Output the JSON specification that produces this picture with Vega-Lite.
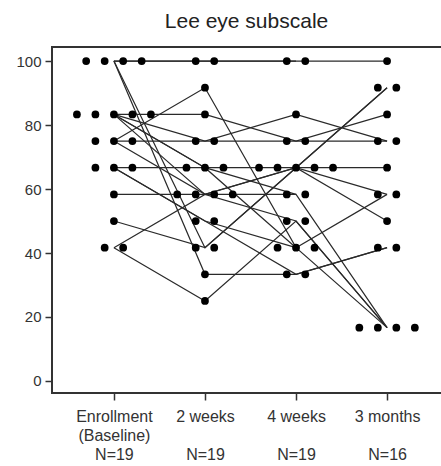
{
  "$schema": "https://vega.github.io/schema/vega-lite/v6.json",
  "autosize": "none",
  "padding": {"left": 52, "top": 47, "right": 0, "bottom": 73},
  "width": 397,
  "height": 346,
  "background": "white",
  "title": {"text": "Lee eye subscale", "fontSize": 21, "fontWeight": "normal", "font": "Liberation Sans", "color": "#222", "anchor": "middle", "baseline": "alphabetic", "offset": 20, "dy": 22, "dx": -4, "frame": "group"},
  "config": {
    "view": {"stroke": "#333", "strokeWidth": 2},
    "axis": {"grid": false, "domain": false, "labelFont": "Liberation Sans", "labelColor": "#333", "tickColor": "#333", "tickWidth": 1.5, "tickSize": 7, "title": null}
  },
  "data": {"values": [
    {"patient": 1, "visit": "Enrollment", "score": 100}, {"patient": 1, "visit": "2 weeks", "score": 100}, {"patient": 1, "visit": "4 weeks", "score": 100}, {"patient": 1, "visit": "3 months", "score": 100},
    {"patient": 2, "visit": "Enrollment", "score": 100}, {"patient": 2, "visit": "2 weeks", "score": 100}, {"patient": 2, "visit": "4 weeks", "score": 100},
    {"patient": 3, "visit": "Enrollment", "score": 100}, {"patient": 3, "visit": "2 weeks", "score": 33.33}, {"patient": 3, "visit": "4 weeks", "score": 33.33}, {"patient": 3, "visit": "3 months", "score": 41.67},
    {"patient": 4, "visit": "Enrollment", "score": 100}, {"patient": 4, "visit": "2 weeks", "score": 41.67}, {"patient": 4, "visit": "4 weeks", "score": 66.67}, {"patient": 4, "visit": "3 months", "score": 91.67},
    {"patient": 5, "visit": "Enrollment", "score": 75}, {"patient": 5, "visit": "2 weeks", "score": 91.67}, {"patient": 5, "visit": "4 weeks", "score": 41.67}, {"patient": 5, "visit": "3 months", "score": 16.67},
    {"patient": 6, "visit": "Enrollment", "score": 41.67}, {"patient": 6, "visit": "2 weeks", "score": 25}, {"patient": 6, "visit": "4 weeks", "score": 50}, {"patient": 6, "visit": "3 months", "score": 16.67},
    {"patient": 7, "visit": "Enrollment", "score": 83.33}, {"patient": 7, "visit": "2 weeks", "score": 83.33}, {"patient": 7, "visit": "4 weeks", "score": 75}, {"patient": 7, "visit": "3 months", "score": 83.33},
    {"patient": 8, "visit": "Enrollment", "score": 83.33}, {"patient": 8, "visit": "2 weeks", "score": 75}, {"patient": 8, "visit": "4 weeks", "score": 83.33}, {"patient": 8, "visit": "3 months", "score": 75},
    {"patient": 9, "visit": "Enrollment", "score": 75}, {"patient": 9, "visit": "2 weeks", "score": 75}, {"patient": 9, "visit": "4 weeks", "score": 75}, {"patient": 9, "visit": "3 months", "score": 75},
    {"patient": 10, "visit": "Enrollment", "score": 50}, {"patient": 10, "visit": "2 weeks", "score": 41.67}, {"patient": 10, "visit": "4 weeks", "score": 66.67}, {"patient": 10, "visit": "3 months", "score": 91.67},
    {"patient": 11, "visit": "Enrollment", "score": 83.33}, {"patient": 11, "visit": "2 weeks", "score": 66.67}, {"patient": 11, "visit": "4 weeks", "score": 66.67}, {"patient": 11, "visit": "3 months", "score": 66.67},
    {"patient": 12, "visit": "Enrollment", "score": 83.33}, {"patient": 12, "visit": "2 weeks", "score": 66.67}, {"patient": 12, "visit": "4 weeks", "score": 58.33},
    {"patient": 13, "visit": "Enrollment", "score": 66.67}, {"patient": 13, "visit": "2 weeks", "score": 66.67}, {"patient": 13, "visit": "4 weeks", "score": 41.67}, {"patient": 13, "visit": "3 months", "score": 58.33},
    {"patient": 14, "visit": "Enrollment", "score": 83.33}, {"patient": 14, "visit": "2 weeks", "score": 58.33}, {"patient": 14, "visit": "4 weeks", "score": 66.67}, {"patient": 14, "visit": "3 months", "score": 58.33},
    {"patient": 15, "visit": "Enrollment", "score": 75}, {"patient": 15, "visit": "2 weeks", "score": 58.33}, {"patient": 15, "visit": "4 weeks", "score": 66.67}, {"patient": 15, "visit": "3 months", "score": 50},
    {"patient": 16, "visit": "Enrollment", "score": 58.33}, {"patient": 16, "visit": "2 weeks", "score": 58.33}, {"patient": 16, "visit": "4 weeks", "score": 58.33}, {"patient": 16, "visit": "3 months", "score": 16.67},
    {"patient": 17, "visit": "Enrollment", "score": 41.67}, {"patient": 17, "visit": "2 weeks", "score": 58.33}, {"patient": 17, "visit": "4 weeks", "score": 50}, {"patient": 17, "visit": "3 months", "score": 16.67},
    {"patient": 18, "visit": "Enrollment", "score": 66.67}, {"patient": 18, "visit": "2 weeks", "score": 50}, {"patient": 18, "visit": "4 weeks", "score": 33.33}, {"patient": 18, "visit": "3 months", "score": 41.67},
    {"patient": 19, "visit": "Enrollment", "score": 66.67}, {"patient": 19, "visit": "2 weeks", "score": 50}, {"patient": 19, "visit": "4 weeks", "score": 41.67}
  ]},
  "encoding": {
    "x": {"field": "visit", "type": "nominal", "sort": ["Enrollment", "2 weeks", "4 weeks", "3 months"],
          "scale": {"type": "point", "padding": 0.68},
          "axis": {"labelAngle": 0, "labelFontSize": 16, "labelPadding": 8, "labelLineHeight": 19, "labelOverlap": false, "labelLimit": 200, "labelBaseline": "top",
                   "labelExpr": "datum.value == 'Enrollment' ? ['Enrollment', '(Baseline)', 'N=19'] : datum.value == '3 months' ? ['3 months', '\u200b', 'N=16'] : [datum.value, '\u200b', 'N=19']"}},
    "y": {"field": "score", "type": "quantitative",
          "scale": {"domain": [-3.76, 104.4], "nice": false, "zero": false},
          "axis": {"values": [0, 20, 40, 60, 80, 100], "format": "d", "labelFontSize": 15, "labelPadding": 4}}
  },
  "layer": [
    {"mark": {"type": "line", "color": "#2a2a2a", "strokeWidth": 1.2},
     "encoding": {"detail": {"field": "patient"}, "order": {"value": null}}},
    {"transform": [
       {"window": [{"op": "row_number", "as": "rk"}, {"op": "count", "as": "n"}], "groupby": ["visit", "score"], "frame": [null, null]},
       {"calculate": "datum.rk - (datum.n + 1) / 2", "as": "slot"}
     ],
     "mark": {"type": "circle", "color": "#000", "opacity": 1, "size": 60},
     "encoding": {"xOffset": {"field": "slot", "type": "quantitative", "scale": {"domain": [-1, 1], "range": [-18.5, 18.5]}}}}
  ]
}
